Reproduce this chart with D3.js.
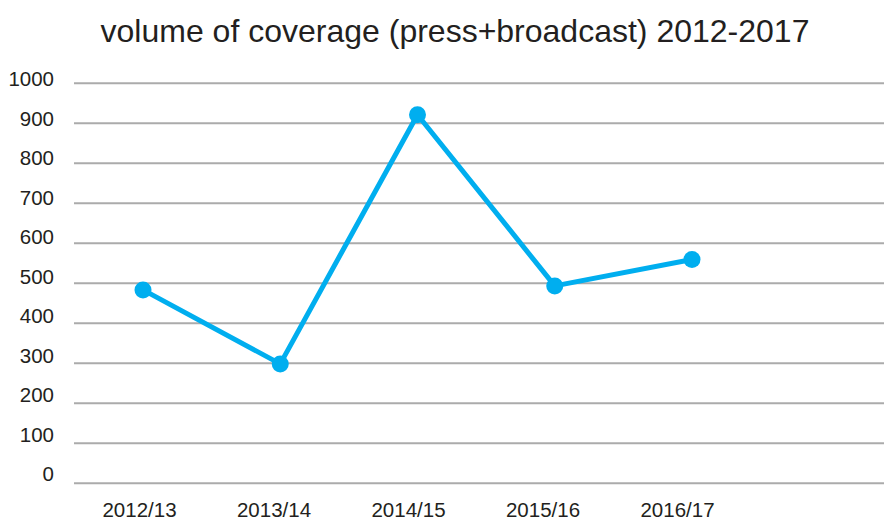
<!DOCTYPE html>
<html>
<head>
<meta charset="utf-8">
<script src="https://cdn.jsdelivr.net/npm/d3@7"></script>
<style>
  html, body { margin: 0; padding: 0; background: #fff; }
  svg { display: block; }
  text { font-family: "Liberation Sans", Arial, Helvetica, sans-serif; fill: #231f20; }
</style>
</head>
<body>
<svg id="chart" width="884" height="522"></svg>
<script>
const title = "volume of coverage (press+broadcast) 2012-2017";
const categories = ["2012/13", "2013/14", "2014/15", "2015/16", "2016/17"];
const values = [482, 297, 920, 492, 558];
const yTicks = [0, 100, 200, 300, 400, 500, 600, 700, 800, 900, 1000];

const svg = d3.select("#chart");
const W = 884, H = 522;

// scales
const y = d3.scaleLinear().domain([0, 1000]).range([482.7, 82.7]);
const yLabel = d3.scaleLinear().domain([0, 1000]).range([474.2, 79.2]);
const x = d3.scalePoint().domain(categories).range([143, 692]);
const xLabel = d3.scalePoint().domain(categories).range([139, 677]);

// title
svg.append("text")
  .attr("x", 455).attr("y", 42)
  .attr("text-anchor", "middle")
  .style("font-size", "32px")
  .text(title);

// gridlines
const grid = svg.append("g").attr("transform", "translate(74,0)")
  .call(d3.axisLeft(y).tickValues(yTicks).tickSize(-(W - 74)).tickFormat(""));
grid.select(".domain").remove();
grid.selectAll(".tick line").attr("stroke", "#ababab").attr("stroke-width", 2);

// y labels
const yAx = svg.append("g").attr("transform", "translate(54,0)")
  .call(d3.axisLeft(yLabel).tickValues(yTicks).tickSize(0).tickPadding(0).tickFormat(d3.format("d")));
yAx.select(".domain").remove();
yAx.selectAll("text").style("font-size", "20.5px").attr("fill", "#231f20")
  .attr("font-family", "Liberation Sans, Arial, sans-serif");

// x labels
const xAx = svg.append("g").attr("transform", "translate(0,502)")
  .call(d3.axisBottom(xLabel).tickSize(0).tickPadding(0));
xAx.select(".domain").remove();
xAx.selectAll("text").style("font-size", "20.5px").attr("fill", "#231f20")
  .attr("font-family", "Liberation Sans, Arial, sans-serif");

// line
const line = d3.line().x((d, i) => x(categories[i])).y(d => y(d));
svg.append("path")
  .datum(values)
  .attr("d", line)
  .attr("fill", "none")
  .attr("stroke", "#00aeef")
  .attr("stroke-width", 5)
  .attr("stroke-linejoin", "round");

svg.selectAll("circle.pt")
  .data(values)
  .join("circle")
  .attr("class", "pt")
  .attr("cx", (d, i) => x(categories[i]))
  .attr("cy", d => y(d))
  .attr("r", 8.5)
  .attr("fill", "#00aeef");
</script>
</body>
</html>
